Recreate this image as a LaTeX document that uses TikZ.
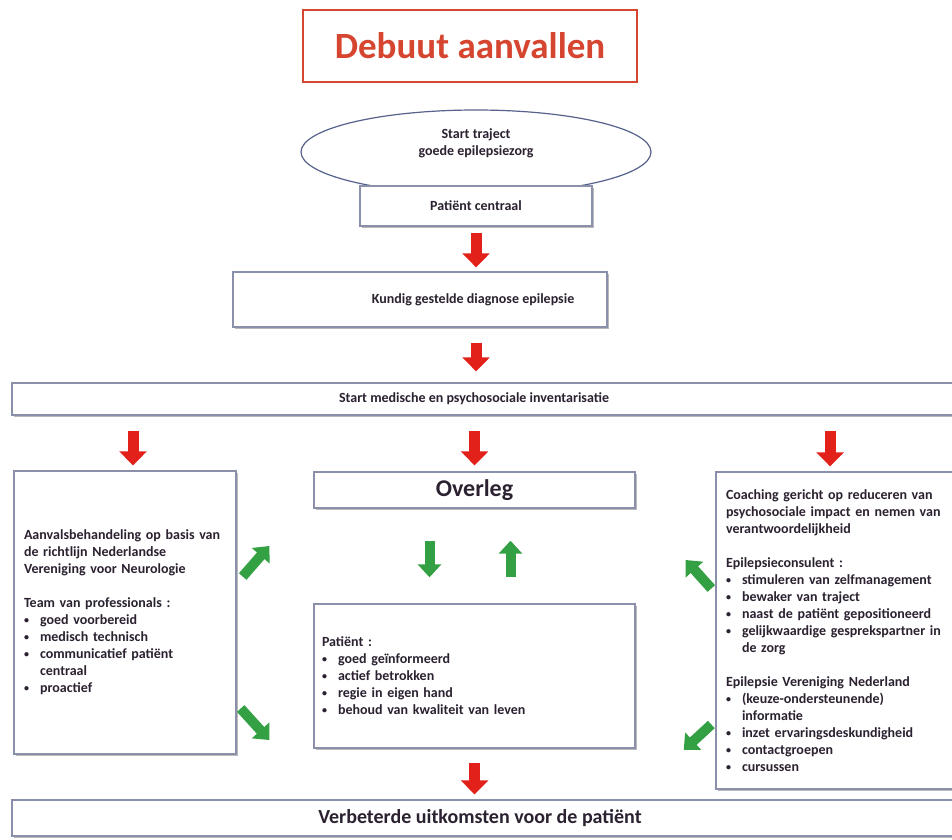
\documentclass[tikz,border=0pt]{standalone}
\usepackage{fontspec}
\setmainfont{Carlito}
\usetikzlibrary{arrows.meta,calc,positioning,shapes.geometric,shadows}
\definecolor{titleRed}{HTML}{D5452F}
\definecolor{boxLine}{HTML}{8A8FAA}
\definecolor{ovalLine}{HTML}{56628C}
\definecolor{arrowRed}{HTML}{E3211B}
\definecolor{arrowGreen}{HTML}{33A043}
\definecolor{inkDark}{HTML}{2B2130}
\newcommand\itm[1]{\makebox[16pt][l]{\raisebox{1pt}{\fontsize{10}{10}\selectfont\textbullet}}#1}

\begin{document}
\begin{tikzpicture}[x=1pt,y=-1pt,
  box/.style={draw=boxLine,line width=1.4pt,fill=white,
    drop shadow={shadow xshift=2pt,shadow yshift=-2pt,opacity=0.45,fill=black!60}},
  small/.style={font=\fontsize{14}{17}\selectfont\bfseries,text=inkDark},
  redarrow/.style={arrowRed,line width=11pt,-{Triangle[length=14pt,width=27pt]}},
  greenarrow/.style={arrowGreen,line width=10pt,-{Triangle[length=13pt,width=23pt]}}]
  \fill[white] (0,0) rectangle (952,839);
  \useasboundingbox (0,0) rectangle (952,839);

  \node[draw=titleRed,line width=2.5pt,minimum width=334pt,minimum height=72pt,text=titleRed,
    font=\fontsize{37}{44}\selectfont\bfseries] (title) at (470,46) {Debuut aanvallen};
  \node[ellipse,draw=ovalLine,line width=1.2pt,fill=white,minimum width=350pt,minimum height=84pt,
    label={[small,yshift=9pt,align=center]center:Start traject\\goede epilepsiezorg}] (start) at (476,152) {};
  \node[box,small,minimum width=232pt,minimum height=40pt] (centraal) at (476,206) {Patiënt centraal};
  \node[box,minimum width=374pt,minimum height=55pt,
    label={[small,xshift=53pt]center:Kundig gestelde diagnose epilepsie}] (diagnose) at (420,299.5) {};
  \node[box,minimum width=948pt,minimum height=32pt,
    label={[small,xshift=-12pt]center:Start medische en psychosociale inventarisatie}] (inventaris) at (486,399) {};

  \node[box,small,text width=202pt,inner xsep=10pt,minimum height=283pt,align=left] (behandeling) at (125,612.5)
    {Aanvalsbehandeling op basis van\\de richtlijn Nederlandse\\Vereniging voor Neurologie\\[17pt]
     Team van professionals :\\\itm{goed voorbereid}\\\itm{medisch technisch}\\\itm{communicatief patiënt}\\
     \hspace*{16pt}centraal\\\itm{proactief}};
  \node[box,minimum width=321pt,minimum height=36pt,font=\fontsize{24}{29}\selectfont\bfseries,text=inkDark]
    (overleg) at (474.5,490) {Overleg};
  \node[box,small,text width=305pt,inner xsep=8pt,minimum height=144pt,align=left] (patient) at (474.5,676)
    {Patiënt :\\\itm{goed geïnformeerd}\\\itm{actief betrokken}\\\itm{regie in eigen hand}\\
     \itm{behoud van kwaliteit van leven}};
  \node[box,small,text width=220pt,inner xsep=10pt,minimum height=317pt,align=left] (coaching) at (836,630.5)
    {Coaching gericht op reduceren van\\psychosociale impact en nemen van\\verantwoordelijkheid\\[17pt]
     Epilepsieconsulent :\\\itm{stimuleren van zelfmanagement}\\\itm{bewaker van traject}\\
     \itm{naast de patiënt gepositioneerd}\\\itm{gelijkwaardige gesprekspartner in}\\\hspace*{16pt}de zorg\\[17pt]
     Epilepsie Vereniging Nederland\\\itm{(keuze-ondersteunende)}\\\hspace*{16pt}informatie\\
     \itm{inzet ervaringsdeskundigheid}\\\itm{contactgroepen}\\\itm{cursussen}};
  \node[box,minimum width=948pt,minimum height=36pt,
    label={[font=\fontsize{20}{24}\selectfont\bfseries,text=inkDark,xshift=-6pt]center:Verbeterde uitkomsten voor de patiënt}]
    (uitkomst) at (486,818) {};

  % rode pijlen
  \draw[redarrow] ($(centraal.south)+(0,6)$) -- ($(centraal.south |- diagnose.north)+(0,-4)$);
  \draw[redarrow] ($(centraal.south |- diagnose.south)+(0,15)$) -- ($(centraal.south |- inventaris.north)+(0,-11)$);
  \draw[redarrow] ($(inventaris.south -| behandeling.north)+(8,15)$) -- ($(behandeling.north)+(8,-5)$);
  \draw[redarrow] ($(inventaris.south -| overleg.north)+(0,15)$) -- ($(overleg.north)+(0,-6)$);
  \draw[redarrow] ($(inventaris.south -| coaching.north)+(-6,15)$) -- ($(coaching.north)+(-6,-5)$);
  \draw[redarrow] ($(patient.south)+(0,14)$) -- ($(patient.south |- uitkomst.north)+(0,-5)$);

  % groene pijlen
  \draw[greenarrow] ($(overleg.south)+(-45,32)$) -- ($(patient.north)+(-45,-26)$);
  \draw[greenarrow] ($(patient.north)+(36,-26)$) -- ($(overleg.south)+(36,32)$);
  \draw[greenarrow] ($(behandeling.east)+(6,-36)$) -- ($(overleg.west)+(-44,56)$);
  \draw[greenarrow] ($(behandeling.east)+(4,96)$) -- ($(patient.west)+(-44,64)$);
  \draw[greenarrow] ($(coaching.west)+(-4,-42)$) -- ($(overleg.east)+(50,70)$);
  \draw[greenarrow] ($(coaching.west)+(-4,94)$) -- ($(patient.east)+(48,74)$);
\end{tikzpicture}
\end{document}
